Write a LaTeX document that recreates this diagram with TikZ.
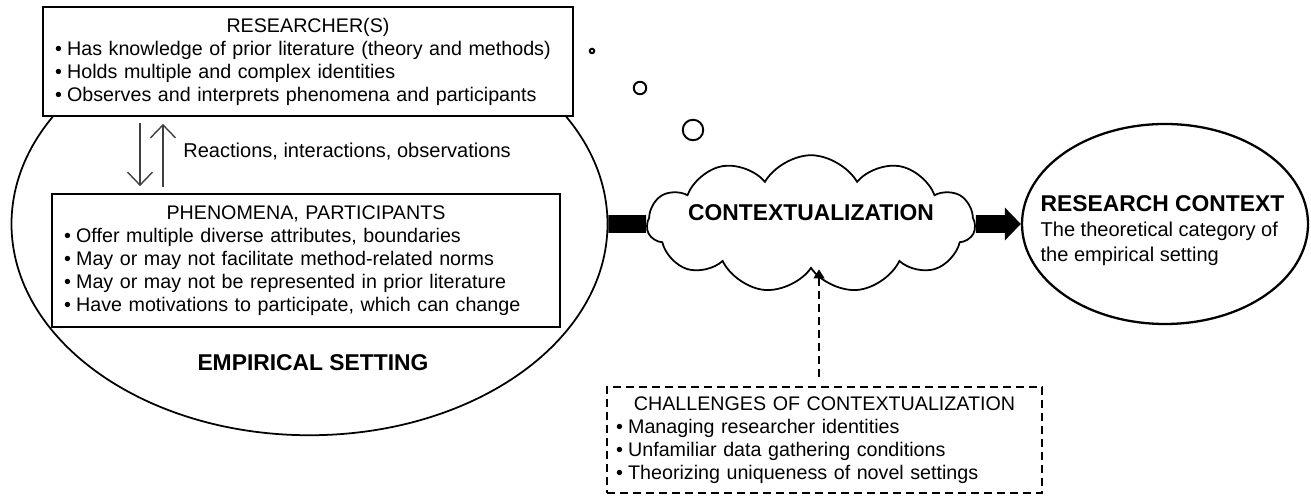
\documentclass[tikz,border=0pt]{standalone}
\usepackage{fontspec}
\setmainfont{Liberation Sans}
\usetikzlibrary{shapes, shapes.geometric, shapes.symbols, arrows.meta}

\tikzset{
  listbox/.style={draw, line width=1pt, fill=white, align=left, inner xsep=0.24cm, inner ysep=0pt,
    font=\fontsize{11.2}{13.1}\selectfont},
  bigtext/.style={font=\fontsize{13}{15}\selectfont\bfseries},
  updown/.style={draw=black!75, line width=0.8pt, -{Straight Barb[length=2.6mm,width=5mm]},
    shorten <=0.12cm, shorten >=0.14cm},
  bubble/.style={circle, draw, line width=1.1pt, inner sep=0pt},
}
\newcommand{\boxtitle}[1]{\hspace*{\fill}#1\hspace*{\fill}\null}
\newcommand{\itm}{\textbullet\hspace{3pt}}

\begin{document}
\begin{tikzpicture}
\useasboundingbox (0,0) rectangle (26.22,9.94);

\node[ellipse, draw, line width=1pt, minimum width=11.92cm, minimum height=8.45cm] (setting) at (6.19,5.46) {};

\node[listbox, text width=10.12cm, minimum height=2.18cm] (researcher) at (6.16,8.71) {\boxtitle{RESEARCHER(S)}\\
\itm Has knowledge of prior literature (theory and methods)\\
\itm Holds multiple and complex identities\\
\itm Observes and interprets phenomena and participants};

\node[listbox, text width=9.68cm, minimum height=2.66cm] (phen) at (6.12,4.73) {\boxtitle{PHENOMENA, PARTICIPANTS}\\
\itm Offer multiple diverse attributes, boundaries\\
\itm May or may not facilitate method-related norms\\
\itm May or may not be represented in prior literature\\
\itm Have motivations to participate, which can change};

\node[bigtext] (empirical) at (6.26,2.68) {EMPIRICAL SETTING};

\coordinate (dn) at (2.8,0);
\coordinate (up) at (3.26,0);
\draw[updown] (researcher.south -| dn) -- (phen.north -| dn);
\draw[updown] (phen.north -| up) -- (researcher.south -| up);
\node[anchor=west, font=\fontsize{11.4}{13.1}\selectfont, inner sep=0pt] (reactions) at (3.66,6.9) {Reactions, interactions, observations};

% thought bubbles
\node[bubble, minimum size=0.09cm] (bub1) at (11.84,8.92) {};
\node[bubble, minimum size=0.25cm] (bub2) at (12.8,8.18) {};
\node[bubble, minimum size=0.41cm] (bub3) at (13.86,7.34) {};

\node[cloud, draw, line width=1pt, fill=white, cloud puffs=11, cloud puff arc=120, cloud ignores aspect,
  minimum width=6.56cm, minimum height=2.75cm, inner sep=0pt] (cloud) at (16.22,5.46) {};
\node[bigtext] (contextual) at ([yshift=0.22cm]cloud.center) {CONTEXTUALIZATION};

\node[ellipse, draw, line width=1.3pt, minimum width=5.72cm, minimum height=4cm] (context) at (23.3,5.46) {};
\node[align=left, font=\fontsize{11.4}{14.2}\selectfont] (ctxtext) at ([xshift=-0.05cm,yshift=-0.14cm]context.center)
  {{\bfseries\fontsize{13}{14.2}\selectfont RESEARCH CONTEXT}\\
  The theoretical category of\\
  the empirical setting};

\node[listbox, dashed, dash pattern=on 0.16cm off 0.1cm, inner xsep=0.18cm, text width=8.34cm, minimum height=2.12cm] (challenges) at (16.49,1.14) {\boxtitle{CHALLENGES OF CONTEXTUALIZATION}\\
\itm Managing researcher identities\\
\itm Unfamiliar data gathering conditions\\
\itm Theorizing uniqueness of novel settings};

\draw[line width=10pt] (setting.east) -- (cloud.west);
\draw[line width=10pt, -{Triangle[length=3.2mm,width=6.4mm]}] (cloud.east) -- (context.west);

\coordinate (dsh) at ([xshift=-0.11cm]challenges.north);
\draw[line width=0.8pt, dash pattern=on 0.16cm off 0.1cm, -{Triangle[length=1.8mm,width=2.2mm]}, shorten <=0.18cm]
  (dsh) -- (dsh |- cloud.south);

\end{tikzpicture}
\end{document}
